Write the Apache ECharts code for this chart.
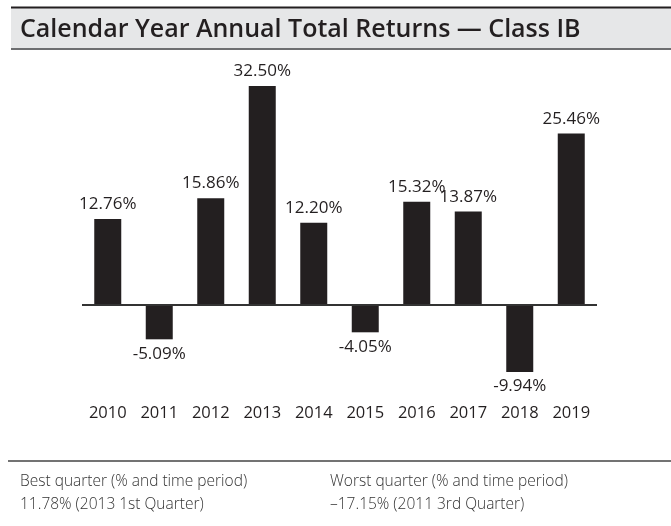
<!DOCTYPE html>
<html>
<head>
<meta charset="UTF-8">
<title>Calendar Year Annual Total Returns</title>
<style>
  html, body { margin: 0; padding: 0; background: #fff; }
  #chart { width: 671px; height: 526px; }
</style>
<script src="https://cdn.jsdelivr.net/npm/echarts@6/dist/echarts.min.js"></script>
</head>
<body>
<div id="chart"></div>
<script>
// data
var years = ['2010', '2011', '2012', '2013', '2014', '2015', '2016', '2017', '2018', '2019'];
var returns = [12.76, -5.09, 15.86, 32.50, 12.20, -4.05, 15.32, 13.87, -9.94, 25.46];
var titleText = 'Calendar Year Annual Total Returns \u2014 Class IB';
var bestLabel = 'Best quarter (% and time period)';
var bestValue = '11.78% (2013 1st Quarter)';
var worstLabel = 'Worst quarter (% and time period)';
var worstValue = '\u201317.15% (2011 3rd Quarter)';

var ink = '#231f20';
var font = '"Open Sans", "Noto Sans", sans-serif';

var chart = echarts.init(document.getElementById('chart'));

var option = {
  animation: false,
  grid: { left: 82, right: 74, top: 86, bottom: 153.6 },
  xAxis: {
    type: 'category',
    data: years,
    axisLine: { show: false, onZero: false },
    axisTick: { show: false },
    axisLabel: { color: ink, fontFamily: font, fontSize: 16.5, margin: 32 }
  },
  yAxis: {
    type: 'value',
    min: -10,
    max: 32.5,
    show: false,
    splitLine: { show: false }
  },
  series: [{
    type: 'bar',
    barWidth: 27,
    data: returns.map(function (v) {
      return {
        value: v,
        label: { position: v < 0 ? 'bottom' : 'top' }
      };
    }),
    itemStyle: { color: ink },
    label: {
      show: true,
      distance: 6,
      color: ink,
      fontFamily: font,
      fontSize: 17,
      formatter: function (p) { return p.value.toFixed(2) + '%'; }
    },
    markLine: {
      silent: true,
      symbol: 'none',
      label: { show: false },
      lineStyle: { color: '#333', width: 2, type: 'solid' },
      data: [{ yAxis: 0 }],
      z: 10
    }
  }],
  graphic: [
    // title band
    { type: 'rect', shape: { x: 11, y: 8, width: 660, height: 41 }, style: { fill: '#e6e7e8' } },
    { type: 'line', shape: { x1: 11, y1: 7.5, x2: 671, y2: 7.5 }, style: { stroke: '#231f20', lineWidth: 2 } },
    { type: 'line', shape: { x1: 11, y1: 49, x2: 671, y2: 49 }, style: { stroke: '#6d6e70', lineWidth: 2 } },
    { type: 'text', x: 20, y: 30,
      style: { text: titleText, fill: ink, font: '600 25px ' + font, verticalAlign: 'middle' } },
    // footer
    { type: 'line', shape: { x1: 8, y1: 461, x2: 671, y2: 461 }, style: { stroke: '#444', lineWidth: 1.5 } },
    { type: 'text', x: 20, y: 482, style: { text: bestLabel, fill: '#333', font: '300 15.5px ' + font, verticalAlign: 'middle' } },
    { type: 'text', x: 20, y: 505, style: { text: bestValue, fill: '#333', font: '300 15.5px ' + font, verticalAlign: 'middle' } },
    { type: 'text', x: 330, y: 482, style: { text: worstLabel, fill: '#333', font: '300 15.5px ' + font, verticalAlign: 'middle' } },
    { type: 'text', x: 330, y: 505, style: { text: worstValue, fill: '#333', font: '300 15.5px ' + font, verticalAlign: 'middle' } }
  ]
};

chart.setOption(option);
</script>
</body>
</html>
